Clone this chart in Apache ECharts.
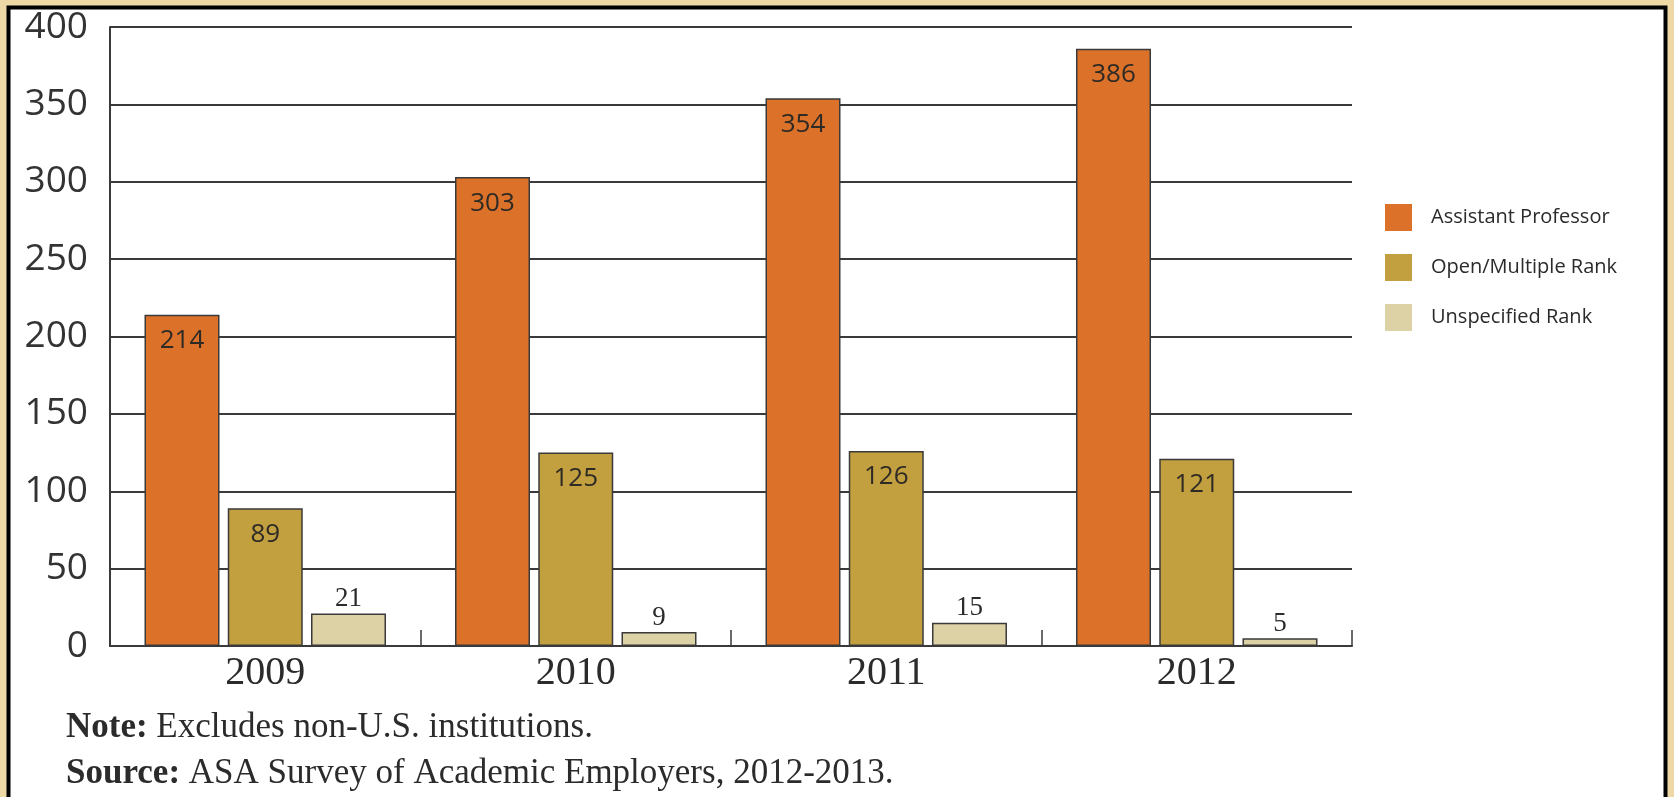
<!DOCTYPE html>
<html>
<head>
<meta charset="utf-8">
<script src="https://cdn.jsdelivr.net/npm/echarts@6/dist/echarts.min.js"></script>
<style>
  html, body { margin: 0; padding: 0; background: #EDD8A6; }
  #chart { width: 1674px; height: 797px; }
</style>
</head>
<body>
<div id="chart"></div>
<script>
// Academic job postings by rank, 2009-2012
const years = ['2009', '2010', '2011', '2012'];
const assistantProfessor = [214, 303, 354, 386];
const openMultipleRank = [89, 125, 126, 121];
const unspecifiedRank = [21, 9, 15, 5];
const yTicks = { min: 0, max: 400, step: 50 };
const noteText = 'Excludes non-U.S. institutions.';
const sourceText = 'ASA Survey of Academic Employers, 2012-2013.';

const chart = echarts.init(document.getElementById('chart'));

const sansFont = '"Open Sans", "Noto Sans", sans-serif';
const serifFont = '"Liberation Serif", "DejaVu Serif", serif';
const lineColor = '#3a3a3a';
const barBorder = { borderColor: '#3a3a3a', borderWidth: 1.5 };

const insideLabel = {
  show: true,
  position: 'insideTop',
  distance: 13,
  fontFamily: sansFont,
  fontSize: 26,
  color: '#2e2a25'
};

function footnote(label, text, top) {
  return {
    type: 'text',
    left: 66,
    top: top,
    style: {
      text: '{b|' + label + '} ' + text,
      rich: {
        b: { fontFamily: serifFont, fontSize: 35, fontWeight: 'bold', fill: '#2b2b2b' }
      },
      fontFamily: serifFont,
      fontSize: 35,
      fill: '#2b2b2b'
    }
  };
}

chart.setOption({
  backgroundColor: '#EDD8A6',
  animation: false,
  graphic: [
    {
      type: 'rect',
      z: -10,
      shape: { x: 8.5, y: 7.5, width: 1657, height: 800 },
      style: { fill: '#ffffff', stroke: '#000000', lineWidth: 4 }
    },
    footnote('Note:', noteText, 710),
    footnote('Source:', sourceText, 756)
  ],
  legend: {
    orient: 'vertical',
    left: 1380,
    top: 199,
    icon: 'rect',
    itemWidth: 27,
    itemHeight: 27,
    itemGap: 23,
    itemStyle: { borderWidth: 0 },
    textStyle: {
      fontFamily: sansFont,
      fontSize: 20,
      color: '#2a2a2a',
      padding: [0, 0, 0, 14]
    },
    data: ['Assistant Professor', 'Open/Multiple Rank', 'Unspecified Rank']
  },
  grid: {
    left: 110,
    right: 322,
    top: 27,
    bottom: 151,
    containLabel: false
  },
  xAxis: {
    type: 'category',
    data: years,
    boundaryGap: true,
    axisLine: { show: true, lineStyle: { color: lineColor, width: 2 } },
    axisTick: { show: true, inside: true, length: 16, lineStyle: { color: lineColor, width: 1.5 } },
    axisLabel: {
      fontFamily: serifFont,
      fontSize: 40,
      color: '#2b2b2b',
      margin: 7
    }
  },
  yAxis: {
    type: 'value',
    min: yTicks.min,
    max: yTicks.max,
    interval: yTicks.step,
    axisLine: { show: true, lineStyle: { color: lineColor, width: 2 } },
    axisTick: { show: false },
    splitLine: { show: true, lineStyle: { color: lineColor, width: 2 } },
    axisLabel: {
      fontFamily: sansFont,
      fontSize: 37,
      color: '#333333',
      margin: 22
    }
  },
  series: [
    {
      name: 'Assistant Professor',
      type: 'bar',
      data: assistantProfessor,
      barWidth: 75,
      barGap: '11%',
      itemStyle: Object.assign({ color: '#DC722A' }, barBorder),
      label: insideLabel
    },
    {
      name: 'Open/Multiple Rank',
      type: 'bar',
      data: openMultipleRank,
      barWidth: 75,
      barGap: '11%',
      itemStyle: Object.assign({ color: '#C3A03F' }, barBorder),
      label: insideLabel
    },
    {
      name: 'Unspecified Rank',
      type: 'bar',
      data: unspecifiedRank,
      barWidth: 75,
      barGap: '11%',
      itemStyle: Object.assign({ color: '#DDD1A6' }, barBorder),
      label: {
        show: true,
        position: 'top',
        distance: 1,
        fontFamily: serifFont,
        fontSize: 27,
        color: '#2b2b2b'
      }
    }
  ]
});
</script>
</body>
</html>
